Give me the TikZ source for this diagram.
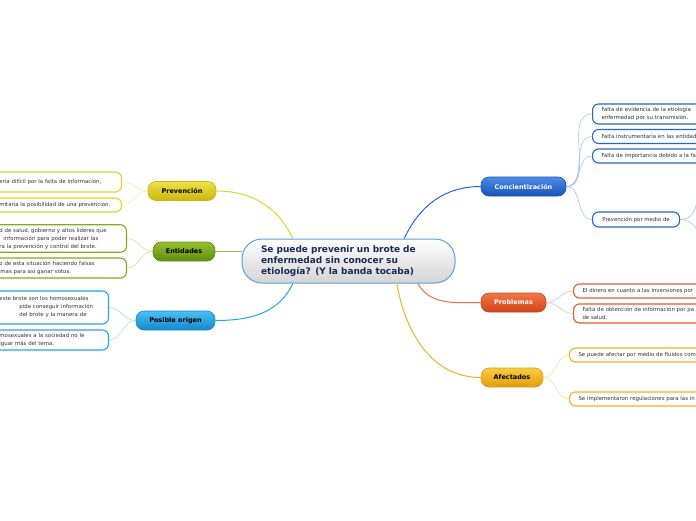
\documentclass[tikz,border=0pt]{standalone}
\usepackage{fontspec}
\setmainfont{DejaVu Sans}
\usepackage{xcolor}
\usetikzlibrary{positioning}
\definecolor{centralline}{HTML}{5A9FDC}
\definecolor{centraltext}{HTML}{1B2A55}
\definecolor{leaftext}{HTML}{333333}
\definecolor{concblue}{HTML}{2566CC}
\definecolor{concblueA}{HTML}{4D8CE6}
\definecolor{concblueB}{HTML}{1852B8}
\definecolor{probred}{HTML}{E8582E}
\definecolor{probredA}{HTML}{F0774A}
\definecolor{probredB}{HTML}{D2441A}
\definecolor{afecyel}{HTML}{F2B21E}
\definecolor{afecyelA}{HTML}{FACB44}
\definecolor{afecyelB}{HTML}{E19D0C}
\definecolor{prevyel}{HTML}{E4D224}
\definecolor{prevyelA}{HTML}{EEE14A}
\definecolor{prevyelB}{HTML}{C9B50E}
\definecolor{entgreen}{HTML}{7EAC1E}
\definecolor{entgreenA}{HTML}{97C132}
\definecolor{entgreenB}{HTML}{5F8C0E}
\definecolor{poscyan}{HTML}{24A6E6}
\definecolor{poscyanA}{HTML}{4CC0F4}
\definecolor{poscyanB}{HTML}{1487CE}

\begin{document}
\begin{tikzpicture}[x=1pt, y=-1pt,
  central/.style={draw=centralline, line width=1pt, rounded corners=20pt,
                  top color=white, bottom color=black!17,
                  minimum width=213pt, minimum height=44pt, text width=175pt,
                  align=left, text=centraltext,
                  font=\fontsize{9}{11}\selectfont\bfseries},
  branch/.style={rounded corners=8pt, minimum height=19pt, inner xsep=6pt,
                 line width=0.6pt, font=\fontsize{6.5}{8}\selectfont\bfseries},
  leaf/.style={draw, line width=1.1pt, fill=white, rounded corners=6pt,
               align=left, inner xsep=9pt, inner ysep=3pt, text=leaftext,
               font=\fontsize{5.4}{8}\selectfont},
  twig/.style={line width=0.5pt},
  limb/.style={line width=1pt}]

\useasboundingbox[fill=white] (0,0) rectangle (696,520);

% centro
\node[central] (center) at (348.5,261) {Se puede prevenir un brote de\\
  enfermedad sin conocer su\\ etiología? (Y la banda tocaba)};

% ramas
\node[branch, minimum width=85pt, draw=concblueB, top color=concblueA,
      bottom color=concblueB, text=white] (conc) at (523.5,186.5) {Concientización};
\node[branch, minimum width=65pt, draw=probredB, top color=probredA,
      bottom color=probredB, text=white] (prob) at (513.5,302.5) {Problemas};
\node[branch, minimum width=62pt, draw=afecyelB, top color=afecyelA,
      bottom color=afecyelB, text=black] (afec) at (512,377.5) {Afectados};
\node[branch, minimum width=68pt, draw=prevyelB, top color=prevyelA,
      bottom color=prevyelB, text=black] (prev) at (182,191) {Prevención};
\node[branch, minimum width=62pt, draw=entgreenB, top color=entgreenA,
      bottom color=entgreenB, text=black] (ent) at (184,251.5) {Entidades};
\node[branch, minimum width=79pt, draw=poscyanB, top color=poscyanA,
      bottom color=poscyanB, text=black] (pos) at (175.5,320.5) {Posible origen};

\draw[limb, concblue] (center.22) to[out=65, in=180] (conc.west);
\draw[limb, probred!85] (center.-18) to[out=-60, in=180] (prob.west);
\draw[limb, afecyel] (center.-25) to[out=-80, in=180] (afec.west);
\draw[limb, prevyel] (prev.east) to[out=0, in=115] (center.158);
\draw[limb, entgreen!80] (ent.east) -- (ent.east -| center.west);
\draw[limb, poscyan] (pos.east) to[out=0, in=-115] (center.202);

% hojas de Concientizacion
\node[leaf, draw=concblue, anchor=west, text width=120pt, minimum height=20pt]
  (c1) at (592,114) {Falta de evidencia de la etiología\\enfermedad por su transmisión.};
\node[leaf, draw=concblue, anchor=west, text width=120pt, minimum height=14pt]
  (c2) at (592,136.5) {Falta instrumentaria en las entidad};
\node[leaf, draw=concblue, anchor=west, text width=120pt, minimum height=14pt]
  (c3) at (592,156) {Falta de importancia debido a la fa};
\node[leaf, draw=concblue, anchor=west, align=center, minimum width=87pt,
      minimum height=15pt, inner xsep=3pt] (c4) at (592,219.5) {Prevención por medio de};
\coordinate (c4a) at (700,165);
\coordinate (c4b) at (700,238);
\foreach \leafname in {c1,c2,c3,c4}
  \draw[twig, concblue!45] (conc.east) to[out=0, in=180] (\leafname.west);
\draw[twig, concblue!45] (c4.east) to[out=0, in=-100] (c4a);
\draw[twig, concblue!45] (c4.east) to[out=0, in=100] (c4b);

% hojas de Problemas
\node[leaf, draw=probred, anchor=west, text width=125pt, minimum height=14pt]
  (p1) at (573,291) {El dinero en cuanto a las inversiones por};
\node[leaf, draw=probred, anchor=west, text width=125pt, minimum height=19pt]
  (p2) at (573,313.5) {Falta de obtención de información por pa\\de salud.};
\foreach \leafname in {p1,p2}
  \draw[twig, probred!45] (prob.east) to[out=0, in=180] (\leafname.west);

% hojas de Afectados
\node[leaf, draw=afecyel, anchor=west, text width=130pt, minimum height=14pt]
  (a1) at (569,355) {Se puede afectar por medio de fluidos com};
\node[leaf, draw=afecyel, anchor=west, text width=130pt, minimum height=14pt]
  (a2) at (569,399) {Se implementaron regulaciones para las in};
\foreach \leafname in {a1,a2}
  \draw[twig, afecyel!45] (afec.east) to[out=0, in=180] (\leafname.west);

% hojas de Prevencion
\node[leaf, draw=prevyel, anchor=east, text width=113pt, minimum height=20pt]
  (v1) at (122,182) {ería difícil por la falta de información,};
\node[leaf, draw=prevyel, anchor=east, text width=113pt, minimum height=14pt]
  (v2) at (122,205) {mitaría la posibilidad de una prevención.};
\foreach \leafname in {v1,v2}
  \draw[twig, prevyel!45] (prev.west) to[out=180, in=0] (\leafname.east);

% hojas de Entidades
\node[leaf, draw=entgreen, anchor=east, text width=118pt, minimum height=27pt]
  (e1) at (127,238.5) {d de salud, gobierno y altos líderes que\\
  \hspace*{4pt}información para poder realizar las\\
  ra la prevención y control del brote.};
\node[leaf, draw=entgreen, anchor=east, text width=118pt, minimum height=20pt]
  (e2) at (127,268) {o de esta situación haciendo falsas\\
  \hspace*{1pt}mas para así ganar votos.};
\foreach \leafname in {e1,e2}
  \draw[twig, entgreen!45] (ent.west) to[out=180, in=0] (\leafname.east);

% hojas de Posible origen
\node[leaf, draw=poscyan, anchor=east, text width=100pt, minimum height=33pt]
  (o1) at (109,307.5) {este brote son los homosexuales\\
  \hspace*{20pt}pide conseguir información\\
  \hspace*{20pt}del brote y la manera de};
\node[leaf, draw=poscyan, anchor=east, text width=100pt, minimum height=20pt]
  (o2) at (109,340) {mosexuales a la sociedad no le\\iguar más del tema.};
\foreach \leafname in {o1,o2}
  \draw[twig, poscyan!45] (pos.west) to[out=180, in=0] (\leafname.east);
\end{tikzpicture}
\end{document}
